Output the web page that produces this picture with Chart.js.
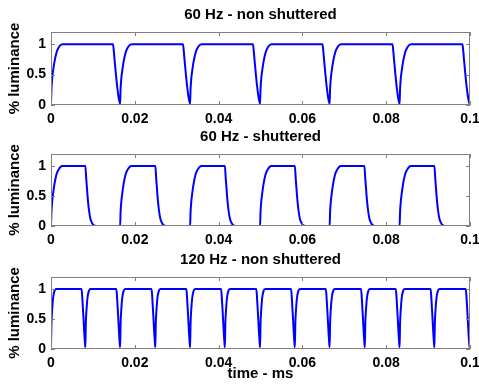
<!DOCTYPE html>
<html>
<head>
<meta charset="utf-8">
<script src="https://cdn.jsdelivr.net/npm/chart.js@4"></script>
<style>
  body { margin: 0; background: #fff; }
  .panel { position: absolute; left: 0; width: 479px; }
</style>
</head>
<body>
<div class="panel" style="top:0;height:130px"><canvas id="c1"></canvas></div>
<div class="panel" style="top:122px;height:130px"><canvas id="c2"></canvas></div>
<div class="panel" style="top:245px;height:144px"><canvas id="c3"></canvas></div>
<script>
// AXES
const xTicks = [0, 0.02, 0.04, 0.06, 0.08, 0.1];
const xTickLabels = ["0", "0.02", "0.04", "0.06", "0.08", "0.1"];
const yTicks = [0, 0.5, 1];
const yTickLabels = ["0", "0.5", "1"];

// 60 HZ - NON SHUTTERED
// times of the dips (minimum luminance)
const dips60 = [0.0165, 0.0332, 0.0499, 0.0665, 0.0832, 0.0999];
// rise after a dip (time after dip, luminance)
const rise60Dt = [0, 0.0001, 0.0003, 0.0005, 0.0008, 0.0013, 0.0018, 0.0022, 0.0027];
const rise60Lum = [0.02, 0.25, 0.45, 0.56, 0.7, 0.86, 0.94, 0.98, 1];
// fall before a dip (time before dip, luminance)
const fall60Dt = [-0.0017, -0.0015, -0.0013, -0.0010, -0.0007, -0.0004, -0.0001];
const fall60Lum = [1, 0.88, 0.72, 0.5, 0.3, 0.14, 0.04];

// 60 HZ - SHUTTERED
const onTimes = [0, 0.0165, 0.0332, 0.0499, 0.0665, 0.0832];
const offTimes = [0.0082, 0.0249, 0.0415, 0.0582, 0.0748, 0.0915];
const riseShDt = [0, 0.0001, 0.0003, 0.0005, 0.0008, 0.0013, 0.0018, 0.0022, 0.0027];
const riseShLum = [0, 0.22, 0.42, 0.54, 0.69, 0.86, 0.94, 0.98, 1];
const fallShDt = [0, 0.0002, 0.0005, 0.0008, 0.0012, 0.0016, 0.0020, 0.0026];
const fallShLum = [1, 0.8, 0.52, 0.3, 0.12, 0.05, 0.01, 0];

// 120 HZ - NON SHUTTERED
const dips120 = [0.0082, 0.0165, 0.0249, 0.0332, 0.0415, 0.0499, 0.0582, 0.0665, 0.0749, 0.0832, 0.0915, 0.0999];
const rise120Dt = [0, 0.0001, 0.0003, 0.0005, 0.0008, 0.0012];
const rise120Lum = [0.03, 0.4, 0.68, 0.85, 0.96, 1];
const fall120Dt = [-0.0009, -0.0007, -0.0005, -0.0003, -0.0001];
const fall120Lum = [1, 0.82, 0.58, 0.32, 0.1];

const X_MAX = 0.1;

function place(pts, t0, dts, lums) {
	dts.forEach((d, i) => {
		const x = t0 + d;
		if (x <= X_MAX + 1e-9) pts.push({ x: x, y: lums[i] });
	});
}

// build series
const pts1 = [];
place(pts1, 0, rise60Dt, rise60Lum);
dips60.forEach(d => { place(pts1, d, fall60Dt, fall60Lum); place(pts1, d, rise60Dt, rise60Lum); });

const pts2 = [];
onTimes.forEach((t, i) => { place(pts2, t, riseShDt, riseShLum); place(pts2, offTimes[i], fallShDt, fallShLum); });
pts2.push({ x: X_MAX, y: 0 });

const pts3 = [];
place(pts3, 0, rise120Dt, rise120Lum);
dips120.forEach(d => { place(pts3, d, fall120Dt, fall120Lum); place(pts3, d, rise120Dt, rise120Lum); });

const FONT = "'Liberation Sans', Arial, Helvetica, sans-serif";

// frame + inner ticks + subplot title
const framePlugin = {
	id: "frame",
	afterDraw(chart, args, opts) {
		const { ctx, chartArea: a, scales } = chart;
		ctx.save();
		ctx.strokeStyle = "#808080";
		ctx.lineWidth = 1;
		ctx.strokeRect(a.left + 0.5, a.top + 0.5, a.right - a.left - 1, a.bottom - a.top - 1);
		ctx.beginPath();
		xTicks.forEach(v => {
			const px = Math.round(scales.x.getPixelForValue(v)) + 0.5;
			ctx.moveTo(px, a.bottom); ctx.lineTo(px, a.bottom - 4);
			ctx.moveTo(px, a.top); ctx.lineTo(px, a.top + 4);
		});
		yTicks.forEach(v => {
			const py = Math.round(scales.y.getPixelForValue(v)) + 0.5;
			ctx.moveTo(a.left, py); ctx.lineTo(a.left + 4, py);
			ctx.moveTo(a.right, py); ctx.lineTo(a.right - 4, py);
		});
		ctx.stroke();
		ctx.fillStyle = "#000";
		ctx.font = "bold 15px " + FONT;
		ctx.textAlign = "center";
		ctx.textBaseline = "middle";
		ctx.fillText(opts.text, (a.left + a.right) / 2, a.top - 17);
		ctx.restore();
	},
};

function makeChart(id, pts, title, xh, xTitle) {
	const config = {
		type: "line",
		data: {
			datasets: [{
				data: pts,
				borderColor: "#0000ff",
				borderWidth: 2,
				pointRadius: 0,
				cubicInterpolationMode: "monotone",
				fill: false,
			}],
		},
		options: {
			responsive: true,
			maintainAspectRatio: false,
			animation: false,
			layout: { padding: { left: 0, right: 9, top: 32, bottom: 0 } },
			plugins: { legend: { display: false }, tooltip: { enabled: false }, frame: { text: title } },
			scales: {
				x: {
					type: "linear",
					min: 0,
					max: X_MAX,
					afterBuildTicks: s => { s.ticks = xTicks.map(v => ({ value: v })); },
					afterFit: s => { s.height = xh; s.paddingLeft = 0; s.paddingRight = 0; },
					grid: { display: false, drawTicks: false },
					border: { display: false },
					ticks: {
						padding: 6,
						maxRotation: 0,
						color: "#000",
						font: { family: FONT, size: 14, weight: "bold" },
						callback: (v) => xTickLabels[xTicks.indexOf(v)],
					},
					title: {
						display: !!xTitle,
						text: xTitle || "",
						color: "#000",
						font: { family: FONT, size: 15, weight: "bold" },
						padding: { top: 0, bottom: 6 },
					},
				},
				y: {
					min: 0,
					max: 1.2,
					afterBuildTicks: s => { s.ticks = yTicks.map(v => ({ value: v })); },
					afterFit: s => { s.width = 51; },
					grid: { display: false, drawTicks: false },
					border: { display: false },
					ticks: {
						padding: 5,
						color: "#000",
						font: { family: FONT, size: 14, weight: "bold" },
						callback: (v) => yTickLabels[yTicks.indexOf(v)],
					},
					title: {
						display: true,
						text: "% luminance",
						color: "#000",
						font: { family: FONT, size: 15, weight: "bold" },
						padding: { top: 6, bottom: 0 },
					},
				},
			},
		},
		plugins: [framePlugin],
	};
	return new Chart(document.getElementById(id), config);
}

// RENDER
makeChart("c1", pts1, "60 Hz - non shuttered", 25);
makeChart("c2", pts2, "60 Hz - shuttered", 26);
makeChart("c3", pts3, "120 Hz - non shuttered", 40, "time - ms");
</script>
</body>
</html>
